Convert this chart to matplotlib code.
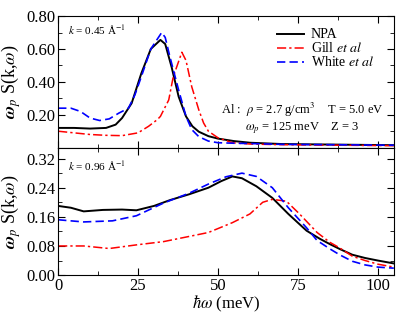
import numpy as np
import matplotlib
matplotlib.use("Agg")
import matplotlib.pyplot as plt
from matplotlib.ticker import MultipleLocator

plt.rcParams['font.family'] = 'Liberation Serif'
plt.rcParams['mathtext.fontset'] = 'stix'

# k = 0.45 1/A panel
x_npa_1 = [0, 5, 10, 15, 18, 20, 23, 26, 29, 32, 33.5, 35.5, 37.7, 40, 42, 44, 47, 50, 55, 60, 70, 80, 90, 105]
y_npa_1 = [0.12, 0.12, 0.116, 0.12, 0.14, 0.18, 0.27, 0.45, 0.60, 0.655, 0.63, 0.49, 0.31, 0.19, 0.13, 0.097, 0.07, 0.055, 0.04, 0.03, 0.022, 0.02, 0.018, 0.015]
x_gill_1 = [0, 5, 10, 15, 20, 25, 28.3, 31, 32, 34.6, 36, 38.7, 40, 41.8, 44, 45.5, 47, 50, 54.5, 60, 70, 105]
y_gill_1 = [0.10, 0.09, 0.08, 0.075, 0.073, 0.09, 0.13, 0.17, 0.19, 0.29, 0.43, 0.58, 0.53, 0.37, 0.23, 0.15, 0.10, 0.06, 0.03, 0.022, 0.018, 0.012]
x_white_1 = [0, 4, 7, 10, 13, 16, 19, 22, 24, 26, 29, 32.4, 33.5, 35, 37.7, 40, 41.8, 44, 47, 50, 55, 60, 70, 105]
y_white_1 = [0.24, 0.24, 0.22, 0.18, 0.165, 0.175, 0.21, 0.24, 0.32, 0.43, 0.60, 0.70, 0.67, 0.55, 0.35, 0.19, 0.11, 0.067, 0.04, 0.03, 0.027, 0.025, 0.02, 0.015]

# k = 0.96 1/A panel
x_npa_2 = [0, 4, 8, 14, 20, 24.5, 30, 35, 41, 47, 51, 54.5, 57.5, 62, 67, 72, 77.7, 81.8, 85, 88, 92, 96, 100, 105]
y_npa_2 = [0.19, 0.185, 0.175, 0.179, 0.18, 0.178, 0.19, 0.206, 0.222, 0.24, 0.258, 0.271, 0.266, 0.244, 0.212, 0.168, 0.122, 0.10, 0.085, 0.072, 0.056, 0.047, 0.04, 0.032]
x_gill_2 = [0, 8, 16, 24.5, 33, 42, 47, 54.5, 60, 64, 67, 71.4, 75.5, 81, 85, 88, 92, 96, 100, 105]
y_gill_2 = [0.08, 0.08, 0.073, 0.083, 0.092, 0.108, 0.117, 0.144, 0.168, 0.20, 0.208, 0.203, 0.168, 0.117, 0.09, 0.075, 0.052, 0.04, 0.03, 0.022]
x_white_2 = [0, 8, 17, 24.5, 33, 41, 47, 52.5, 57.5, 62, 67, 72, 77.7, 81, 85, 88, 92, 96, 100, 105]
y_white_2 = [0.152, 0.146, 0.149, 0.163, 0.198, 0.225, 0.25, 0.27, 0.28, 0.271, 0.24, 0.185, 0.13, 0.095, 0.072, 0.056, 0.038, 0.028, 0.022, 0.019]

fig = plt.figure(figsize=(4.15, 3.21), dpi=100)
ax1 = fig.add_axes([0.140, 0.540, 0.809, 0.410])
ax2 = fig.add_axes([0.140, 0.143, 0.809, 0.397])

def draw(ax, xs, ys):
    ax.plot(xs[0], ys[0], color='black', lw=1.4, label='NPA')
    ax.plot(xs[1], ys[1], color='red', lw=1.1, dashes=(6, 2, 1.5, 2), label='Gill $et\\ al$')
    ax.plot(xs[2], ys[2], color='blue', lw=1.2, dashes=(5, 2.5), label='White $et\\ al$')
    ax.set_xlim(0, 105)
    ax.xaxis.set_major_locator(MultipleLocator(25))
    ax.xaxis.set_minor_locator(MultipleLocator(12.5))
    ax.tick_params(which='both', direction='in', top=True, right=True, labelsize=12)
    ax.tick_params(which='major', length=5, pad=2)
    ax.tick_params(which='minor', length=3)

draw(ax1, [x_npa_1, x_gill_1, x_white_1], [y_npa_1, y_gill_1, y_white_1])
draw(ax2, [x_npa_2, x_gill_2, x_white_2], [y_npa_2, y_gill_2, y_white_2])

ax1.set_ylim(0, 0.8)
ax1.set_yticks([0.2, 0.4, 0.6, 0.8])
ax1.yaxis.set_minor_locator(MultipleLocator(0.1))
ax1.set_yticklabels(['0.20', '0.40', '0.60', '0.80'])
ax1.set_xticklabels([])

ax2.set_ylim(0, 0.35)
ax2.set_yticks([0, 0.08, 0.16, 0.24, 0.32])
ax2.set_yticklabels(['0.00', '0.08', '0.16', '0.24', '0.32'])
ax2.yaxis.set_minor_locator(MultipleLocator(0.04))
ax2.set_xlabel(r'$\hbar\omega$ (meV)', fontsize=12, labelpad=0)

for ax in (ax1, ax2):
    ax.set_ylabel(r'$\boldsymbol{\omega}_p$ S(k,$\omega$)', fontsize=13)
    ax.yaxis.set_label_coords(-0.105, 0.5)

ax1.text(0.03, 0.86, r'$k$ = 0.45 Å$^{-1}$', transform=ax1.transAxes, fontsize=8)
ax2.text(0.03, 0.82, r'$k$ = 0.96 Å$^{-1}$', transform=ax2.transAxes, fontsize=8)

ax1.text(0.728, 0.285, r'Al :  $\rho$ = 2.7 g/cm$^3$    T = 5.0 eV', transform=ax1.transAxes,
         fontsize=9, ha='center', va='center')
ax1.text(0.728, 0.15, r'$\omega_p$ = 125 meV    Z = 3', transform=ax1.transAxes,
         fontsize=9, ha='center', va='center')

ax1.legend(loc='upper right', bbox_to_anchor=(0.975, 0.99), frameon=False, fontsize=10,
           handlelength=1.9, handletextpad=0.5, labelspacing=0.0, borderpad=0.3)

fig.savefig('out.png', dpi=100)
